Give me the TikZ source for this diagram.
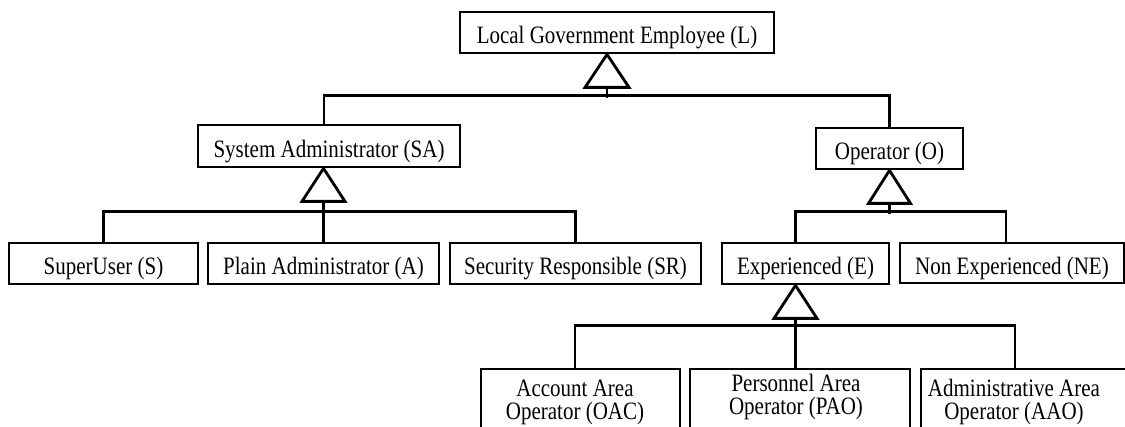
\documentclass[tikz,border=0pt]{standalone}
\usepackage{fontspec}
\setmainfont{Liberation Serif}[FakeStretch=0.84]
\usetikzlibrary{calc}
\begin{document}
\begin{tikzpicture}[x=1pt,y=-1pt,
  box/.style={draw, line width=2.8pt, inner sep=0pt, align=center,
    text height=23pt, text depth=0pt,
    font=\fontsize{25}{23}\selectfont},
  txt/.style={inner sep=0pt, align=center, font=\fontsize{25}{23}\selectfont},
  conn/.style={line width=2.8pt},
  gen/.style={line width=2.8pt, fill=white, line join=miter}]
\useasboundingbox (0,0) rectangle (1125,427);
% level 0
\node[box, minimum width=314pt, minimum height=41pt] (L) at (617,32.5) {Local Government Employee (L)};
% level 1
\node[box, minimum width=262pt, minimum height=42pt] (SA) at (329,146) {System Administrator (SA)};
\node[box, minimum width=147pt, minimum height=41pt] (O) at (889.5,148.5) {Operator (O)};
% level 2
\node[box, minimum width=189pt, minimum height=41pt] (SU) at (103.5,263.5) {SuperUser (S)};
\node[box, minimum width=231pt, minimum height=41pt] (PA) at (323.5,263.5) {Plain Administrator (A)};
\node[box, minimum width=251pt, minimum height=41pt] (SR) at (575.5,263.5) {Security Responsible (SR)};
\node[box, minimum width=167pt, minimum height=41pt] (E) at (805.5,263.5) {Experienced (E)};
\node[box, minimum width=224pt, minimum height=40pt] (NE) at (1012,263) {Non Experienced (NE)};
% level 3
\node[box, minimum width=199pt, minimum height=80pt] (OAC) at (580.5,409) {};
\node[box, minimum width=220pt, minimum height=80pt] (PAO) at (800,409) {};
\node[box, minimum width=219pt, minimum height=80pt] (AAO) at (1030.5,409) {};
\node[txt] (OACt) at (575,402) {Account Area\\Operator (OAC)};
\node[txt] (PAOt) at (796,397) {Personnel Area\\Operator (PAO)};
\node[txt] (AAOt) at (1014,402) {Administrative Area\\Operator (AAO)};
% L generalisation
\coordinate (aL) at ($(L.south)+(-10,0)$);
\draw[conn] ($(aL)+(0,33)$) -- ($(aL)+(0,44)$);
\draw[conn] ($(SA.north)+(-5,0)$) |- ($(O.north)+(0,-31)$) -- (O.north);
\draw[gen] (aL) -- ++(-22,33) -- ++(44,0) -- cycle;
% SA generalisation
\coordinate (aSA) at (PA.north |- SA.south);
\draw[conn] (SU.north) -- ++(0,-30) -| (SR.north);
\draw[conn] ($(aSA)+(0,33)$) -- (PA.north);
\draw[gen] (aSA) -- ++(-21.5,33) -- ++(43,0) -- cycle;
% O generalisation
\coordinate (aO) at (O.south);
\draw[conn] ($(E.north)+(-10,0)$) -- ++(0,-30) -| ($(NE.north)+(-6,0)$);
\draw[conn] ($(aO)+(0,33)$) -- ($(aO)+(0,44)$);
\draw[gen] (aO) -- ++(-21,33) -- ++(42,0) -- cycle;
% E generalisation
\coordinate (aE) at ($(E.south)+(-10,0)$);
\draw[conn] ($(OAC.north)+(-5.5,0)$) -- ++(0,-42) -| ($(AAO.north)+(-15.5,0)$);
\draw[conn] ($(aE)+(0,33)$) -- (aE |- PAO.north);
\draw[gen] (aE) -- ++(-21.5,33) -- ++(43,0) -- cycle;
\end{tikzpicture}
\end{document}
